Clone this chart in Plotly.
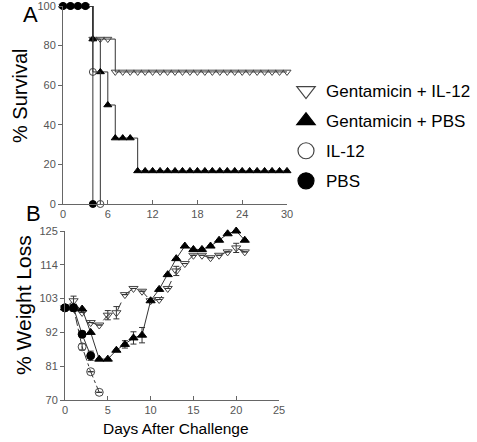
import plotly.graph_objects as go

# ---------------- Panel A: survival (Kaplan-Meier style) ----------------
surv_days_gil12 = list(range(0, 31))
surv_gil12 = [100]*4 + [83.3]*3 + [66.7]*24
surv_days_gpbs = list(range(0, 31))
surv_gpbs = [100]*4 + [83.3, 66.7, 50.0] + [33.3]*3 + [16.7]*21
surv_days_il12 = [0, 1, 2, 3, 4, 5]
surv_il12 = [100, 100, 100, 100, 66.7, 0]
surv_days_pbs = [0, 1, 2, 3, 4]
surv_pbs = [100, 100, 100, 100, 0]

# ---------------- Panel B: weight ----------------
w_days_gil12 = list(range(0, 22))
w_gil12 = [100, 102.3, 98.5, 95.2, 94.4, 97.6, 98.4, 104.3, 106.3, 105.4, 102.3,
           102.7, 106.3, 112.0, 114.4, 117.1, 117.1, 116.3, 117.1, 118.2, 119.5, 118.2]
e_gil12 = [0, 1.5, 0, 0, 0, 1.5, 2.0, 0, 0, 0, 0,
           0, 0, 1.5, 0, 0, 0, 0, 0, 0, 1.5, 0]
w_days_gpbs = list(range(0, 22))
w_gpbs = [100, 100, 99.6, 92.0, 83.3, 83.3, 86.2, 88.1, 90.2, 91.1, 102.3,
          106.0, 110.8, 116.0, 120.1, 119.0, 119.0, 120.1, 122.0, 124.1, 125.0, 122.0]
e_gpbs = [0, 0, 0, 0, 0, 0, 0, 1.2, 2.0, 2.5, 0,
          0, 0, 0, 0, 0, 0, 0, 0, 0, 0, 0]
w_days_il12 = [0, 1, 2, 3, 4]
w_il12 = [100, 100, 87.3, 79.2, 72.5]
e_il12 = [0, 0, 1.0, 0, 0]
w_days_pbs = [0, 1, 2, 3]
w_pbs = [100, 100, 91.4, 84.4]
e_pbs = [0, 1.2, 1.0, 1.5]

legend_names = ["Gentamicin + IL-12", "Gentamicin + PBS", "IL-12", "PBS"]

FONT = "Arial, Liberation Sans, sans-serif"
LINE = "#333333"
AX = "#666666"

fig = go.Figure()

ser_style = [
    dict(symbol="triangle-down-open", color="#444444"),
    dict(symbol="triangle-up", color="black"),
    dict(symbol="circle-open", color="#444444"),
    dict(symbol="circle", color="black"),
]

# Panel A traces
for (xs, ys), st in zip([(surv_days_gil12, surv_gil12), (surv_days_gpbs, surv_gpbs),
                         (surv_days_il12, surv_il12), (surv_days_pbs, surv_pbs)], ser_style):
    fig.add_trace(go.Scatter(
        x=xs, y=ys, mode="lines+markers", line=dict(shape="hv", color=LINE, width=1),
        marker=dict(symbol=st["symbol"], size=7, color=st["color"],
                    line=dict(color=st["color"], width=1)),
        showlegend=False, cliponaxis=False, xaxis="x", yaxis="y"))

# Panel B traces
dashes = ["dash", "solid", "dashdot", "solid"]
for (xs, ys, es), st, d in zip([(w_days_gil12, w_gil12, e_gil12), (w_days_gpbs, w_gpbs, e_gpbs),
                                (w_days_il12, w_il12, e_il12), (w_days_pbs, w_pbs, e_pbs)],
                               ser_style, dashes):
    fig.add_trace(go.Scatter(
        x=xs, y=ys, mode="lines+markers", line=dict(color=LINE, width=1, dash=d),
        marker=dict(symbol=st["symbol"], size=8, color=st["color"],
                    line=dict(color=st["color"], width=1)),
        error_y=dict(type="data", array=es, color="#333333", thickness=1, width=3),
        showlegend=False, cliponaxis=False, xaxis="x2", yaxis="y2"))

# Legend-only traces
for i, (name, st) in enumerate(zip(legend_names, ser_style)):
    fig.add_trace(go.Scatter(
        x=[None], y=[None], mode="markers", name=name, legendgroup=f"g{i}",
        marker=dict(symbol=st["symbol"], size=16, color=st["color"],
                    line=dict(color=st["color"], width=1.2)),
        xaxis="x", yaxis="y"))

axis_common = dict(showline=True, linecolor=AX, linewidth=1, showgrid=False, zeroline=False,
                   tickfont=dict(family=FONT, size=11, color="#555555"), ticklen=4,
                   tickcolor=AX, automargin=False, ticklabeloverflow="allow")

ann_font = lambda s: dict(family=FONT, size=s, color="black")

fig.update_layout(
    width=477, height=442,
    margin=dict(l=0, r=0, t=0, b=0, autoexpand=False),
    paper_bgcolor="white", plot_bgcolor="white",
    font=dict(family=FONT, color="black"),
    xaxis=dict(domain=[63/477, 287/477], range=[0, 30], tickvals=[0, 6, 12, 18, 24, 30],
               ticks="inside", anchor="y", **axis_common),
    yaxis=dict(domain=[1-204/442, 1-6/442], range=[0, 100], tickvals=[0, 20, 40, 60, 80, 100],
               ticks="outside", anchor="x", **axis_common),
    xaxis2=dict(domain=[65/477, 279/477], range=[0, 25], tickvals=[0, 5, 10, 15, 20, 25],
                ticks="inside", anchor="y2", **axis_common),
    yaxis2=dict(domain=[1-400/442, 1-231/442], range=[70, 125],
                tickvals=[70, 81, 92, 103, 114, 125],
                ticks="outside", anchor="x2", **axis_common),
    legend=dict(x=286/477, y=1-73/442, xanchor="left", yanchor="top",
                font=dict(family=FONT, size=17, color="black"),
                tracegroupgap=5, itemsizing="trace", bgcolor="rgba(0,0,0,0)"),
    annotations=[
        dict(text="A", x=30/477, y=1-14/442, font=ann_font(22)),
        dict(text="B", x=33/477, y=1-213/442, font=ann_font(22)),
        dict(text="% Survival", x=20/477, y=1-96/442, textangle=-90, font=ann_font(20)),
        dict(text="% Weight Loss", x=23/477, y=1-305/442, textangle=-90, font=ann_font(21)),
        dict(text="Days After Challenge", x=176/477, y=1-428/442, font=ann_font(15.5)),
    ],
)
fig.update_annotations(xref="paper", yref="paper", showarrow=False,
                       xanchor="center", yanchor="middle")

fig.write_html("out.html", post_script="document.body.style.margin='0';",
               config={"displayModeBar": False, "staticPlot": True})
